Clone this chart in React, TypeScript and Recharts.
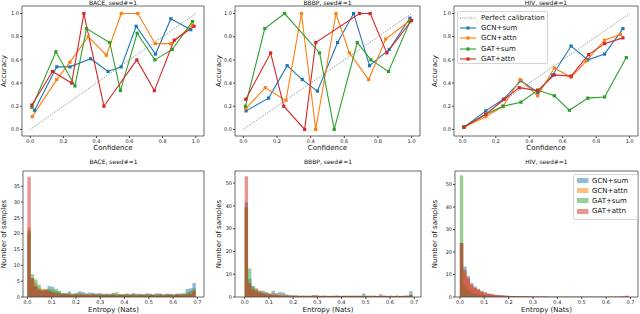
import React from 'react'
import { LineChart, Line, AreaChart, Area, XAxis, YAxis, ReferenceArea } from 'recharts'

const FONT = '"DejaVu Sans", sans-serif'
const seriesNames = ['GCN+sum', 'GCN+attn', 'GAT+sum', 'GAT+attn']
const colors = ['#1f77b4', '#ff7f0e', '#2ca02c', '#d62728']

// reliability diagrams: [confidence, accuracy]
const baceGcnSum = [[0.026, 0.165], [0.16, 0.54], [0.24, 0.54], [0.365, 0.61], [0.47, 0.5], [0.55, 0.54], [0.64, 0.89], [0.757, 0.65], [0.85, 0.955], [0.97, 0.86]]
const baceGcnAttn = [[0.012, 0.11], [0.16, 0.43], [0.24, 0.58], [0.35, 0.8], [0.46, 0.64], [0.55, 1.0], [0.65, 1.0], [0.755, 0.74], [0.85, 0.74], [0.98, 0.9]]
const baceGatSum = [[0.01, 0.19], [0.155, 0.67], [0.27, 0.375], [0.34, 0.87], [0.48, 0.75], [0.545, 0.335], [0.646, 0.83], [0.753, 0.6], [0.858, 0.69], [0.98, 0.93]]
const baceGatAttn = [[0.01, 0.21], [0.134, 0.5], [0.25, 0.4], [0.324, 1.0], [0.445, 0.2], [0.644, 0.6], [0.75, 0.335], [0.87, 0.77], [0.99, 0.89]]

const bbbpGcnSum = [[0.016, 0.16], [0.15, 0.27], [0.26, 0.55], [0.35, 0.43], [0.44, 0.33], [0.56, 0.75], [0.655, 1.0], [0.75, 0.55], [0.867, 0.69], [0.99, 0.96]]
const bbbpGcnAttn = [[0.014, 0.18], [0.13, 0.36], [0.253, 0.25], [0.345, 1.0], [0.43, 0.0], [0.55, 1.0], [0.63, 0.66], [0.745, 0.43], [0.846, 0.78], [0.99, 0.94]]
const bbbpGatSum = [[0.012, 0.2], [0.127, 0.87], [0.245, 1.0], [0.453, 0.66], [0.54, 0.0], [0.677, 0.75], [0.758, 0.6], [0.863, 0.5], [0.99, 0.93]]
const bbbpGatAttn = [[0.014, 0.26], [0.162, 0.66], [0.24, 0.2], [0.364, 0.0], [0.43, 0.75], [0.69, 1.0], [0.754, 1.0], [0.853, 0.66], [1.0, 0.94]]

const hivGcnSum = [[0.01, 0.02], [0.14, 0.16], [0.245, 0.26], [0.35, 0.42], [0.45, 0.32], [0.54, 0.47], [0.65, 0.72], [0.75, 0.6], [0.85, 0.65], [0.96, 0.87]]
const hivGcnAttn = [[0.01, 0.02], [0.14, 0.11], [0.243, 0.2], [0.345, 0.43], [0.45, 0.29], [0.55, 0.53], [0.65, 0.45], [0.74, 0.59], [0.85, 0.77], [0.946, 0.82]]
const hivGatSum = [[0.01, 0.02], [0.14, 0.13], [0.243, 0.2], [0.35, 0.235], [0.45, 0.34], [0.55, 0.29], [0.64, 0.165], [0.75, 0.27], [0.85, 0.28], [0.98, 0.62]]
const hivGatAttn = [[0.01, 0.02], [0.14, 0.13], [0.25, 0.26], [0.34, 0.36], [0.45, 0.335], [0.55, 0.47], [0.65, 0.46], [0.755, 0.645], [0.85, 0.74], [0.96, 0.79]]

const perfectCalibration = [[0, 0], [1, 1]]

// entropy histograms, 50 bins over [0, ln 2]
const baceHistGcnSum = [20, 5, 3, 2.2, 2, 2.5, 3.5, 3.2, 2, 1.6, 1.2, 1.1, 1.7, 1, 1.1, 1.8, 1.6, 1.0, 1.4, 1.3, 1.1, 1.2, 1.0, 1.0, 0.8, 1.0, 0.7, 0.9, 0.7, 1.0, 0.8, 0.9, 0.7, 1.0, 0.8, 1.1, 1.0, 0.9, 1.2, 1.0, 0.8, 1.0, 0.9, 0.8, 1.0, 1.1, 1.2, 2.5, 2.8, 4.4]
const baceHistGcnAttn = [22, 6, 4.5, 3, 2.6, 2.6, 2.2, 1.6, 1.5, 1.3, 1.0, 1.2, 0.9, 1.0, 0.8, 1.2, 0.9, 1.0, 0.7, 1.0, 0.9, 0.8, 0.9, 0.8, 0.7, 0.9, 0.8, 0.7, 0.9, 0.8, 0.7, 0.8, 0.9, 0.7, 0.8, 0.7, 0.9, 0.8, 0.7, 0.9, 0.8, 0.9, 0.7, 0.8, 0.9, 0.8, 0.9, 1.0, 1.6, 2.0]
const baceHistGatSum = [21, 7.2, 5.5, 3.9, 2.4, 2.2, 2.5, 2.3, 2.6, 2.0, 1.2, 1.1, 1.0, 0.9, 1.3, 1.0, 0.9, 1.1, 0.8, 1.0, 0.9, 1.0, 0.8, 0.9, 1.0, 1.3, 1.5, 0.9, 0.8, 1.0, 0.9, 1.3, 1.0, 0.8, 0.9, 1.0, 0.8, 0.7, 0.9, 1.0, 0.8, 0.9, 1.0, 0.8, 1.0, 0.9, 1.0, 1.5, 2.0, 2.8]
const baceHistGatAttn = [38, 6, 3.5, 2.4, 2.0, 2.2, 1.8, 1.4, 1.2, 1.0, 0.9, 1.0, 0.8, 0.7, 0.8, 0.7, 0.8, 0.6, 0.7, 0.8, 0.6, 0.7, 0.6, 0.7, 0.6, 0.7, 0.5, 0.6, 0.7, 0.5, 0.6, 0.7, 0.5, 0.6, 0.6, 0.5, 0.7, 0.6, 0.5, 0.6, 0.5, 0.6, 0.6, 0.5, 0.6, 0.7, 0.6, 0.8, 1.0, 2.0]

const bbbpHistGcnSum = [41.5, 8, 4.7, 3.5, 2.8, 2.7, 2.2, 1.7, 2.7, 1.8, 2.2, 2.0, 1.2, 0.8, 0.7, 0.6, 0.5, 0.6, 0.5, 0.4, 0.5, 0.6, 0.5, 0.4, 0.5, 0.4, 0.5, 0.4, 0.5, 0.4, 0.5, 0.4, 0.5, 0.4, 0.5, 1.5, 0.5, 0.4, 0.5, 0.4, 1.2, 0.5, 0.4, 0.5, 0.4, 0.5, 0.4, 0.5, 0.6, 2.6]
const bbbpHistGcnAttn = [39.3, 6, 4, 4, 2.8, 2.2, 1.8, 1.5, 2.0, 1.3, 1.0, 1.2, 0.8, 0.7, 0.6, 0.7, 0.5, 0.4, 0.6, 0.5, 0.8, 0.7, 0.5, 0.6, 0.5, 0.4, 0.6, 0.5, 0.4, 0.5, 0.6, 0.5, 0.4, 0.5, 0.6, 0.4, 0.5, 0.6, 0.5, 0.4, 0.5, 0.6, 0.5, 0.4, 0.5, 0.6, 0.5, 0.4, 0.5, 1.0]
const bbbpHistGatSum = [39.3, 12.5, 4.7, 3.2, 2.2, 1.8, 1.5, 1.2, 1.0, 1.0, 0.8, 0.8, 0.6, 0.6, 0.5, 0.5, 0.4, 0.5, 0.4, 0.5, 0.4, 0.5, 0.4, 0.5, 0.4, 0.5, 0.4, 0.5, 0.4, 0.5, 0.4, 0.5, 0.4, 0.5, 0.4, 0.5, 0.4, 0.5, 0.4, 0.5, 0.4, 0.5, 0.4, 0.5, 0.4, 0.5, 0.4, 0.5, 0.5, 1.0]
const bbbpHistGatAttn = [53, 6, 3.2, 2.5, 2.0, 1.5, 1.2, 1.0, 0.9, 0.8, 0.7, 0.6, 0.6, 0.5, 0.5, 0.5, 0.4, 0.5, 0.4, 0.4, 0.8, 0.7, 0.4, 0.5, 0.4, 0.4, 0.4, 0.5, 0.4, 0.4, 0.4, 0.4, 0.5, 0.4, 0.4, 0.4, 0.4, 0.4, 0.4, 0.4, 0.4, 0.4, 0.4, 0.4, 0.4, 0.4, 0.4, 0.4, 0.5, 0.8]

const hivHistGcnSum = [24, 13.6, 9.4, 6.2, 4.7, 3.7, 2.8, 2.2, 1.6, 1.3, 1.0, 0.9, 0.8, 0.7, 0.6, 0.5, 0.4, 0.4, 0.3, 0.3, 0.3, 0.2, 0.2, 0.2, 0.2, 0.2, 0.2, 0.1, 0.1, 0.1, 0.1, 0.1, 0.1, 0.1, 0.1, 0.1, 0.1, 0.1, 0.1, 0.1, 0.1, 0.1, 0.1, 0.1, 0.1, 0.1, 0.1, 0.1, 0.1, 0.2]
const hivHistGcnAttn = [24, 11, 8, 5.5, 4.3, 3.4, 2.6, 2, 1.5, 1.2, 1, 0.8, 0.7, 0.6, 0.5, 0.5, 0.4, 0.3, 0.3, 0.3, 0.2, 0.2, 0.2, 0.2, 0.2, 0.1, 0.1, 0.1, 0.1, 0.1, 0.1, 0.1, 0.1, 0.1, 0.1, 0.1, 0.1, 0.1, 0.1, 0.1, 0.1, 0.1, 0.1, 0.1, 0.1, 0.1, 0.2, 0.2, 0.3, 0.6]
const hivHistGatSum = [54, 5, 3, 2, 1.5, 1.2, 1, 0.8, 0.6, 0.5, 0.4, 0.4, 0.3, 0.3, 0.3, 0.2, 0.2, 0.2, 0.2, 0.2, 0.2, 0.1, 0.1, 0.1, 0.1, 0.1, 0.1, 0.1, 0.1, 0.1, 0.1, 0.1, 0.1, 0.1, 0.1, 0.1, 0.1, 0.1, 0.1, 0.1, 0.1, 0.1, 0.1, 0.1, 0.1, 0.1, 0.1, 0.1, 0.1, 0.2]
const hivHistGatAttn = [24, 12.1, 8.4, 5.5, 4, 3.1, 2.2, 1.6, 1.3, 1.1, 0.9, 0.8, 0.7, 0.6, 0.5, 0.4, 0.4, 0.3, 0.3, 0.3, 0.2, 0.2, 0.2, 0.2, 0.2, 0.2, 0.1, 0.1, 0.1, 0.1, 0.1, 0.1, 0.1, 0.1, 0.1, 0.1, 0.1, 0.1, 0.1, 0.1, 0.1, 0.1, 0.1, 0.1, 0.1, 0.1, 0.1, 0.2, 0.2, 0.6]

const confTicks = [0, 0.2, 0.4, 0.6, 0.8, 1.0]
const entropyTicks = [0, 0.1, 0.2, 0.3, 0.4, 0.5, 0.6, 0.7]
const baceCountTicks = [0, 5, 10, 15, 20, 25, 30, 35]
const countTicks = [0, 10, 20, 30, 40, 50]

const ENTROPY_MAX = 0.6931
const CONF_DOMAIN: [number, number] = [-0.05, 1.05]
const ACC_DOMAIN: [number, number] = [-0.057, 1.065]

const toPoints = (pts: number[][]) => pts.map(([x, y]) => ({ x, y }))

// step-area rows: one row per bin edge, last edge repeats the last bin
function histRows(series: number[][]) {
  const n = series[0].length
  const rows: any[] = []
  for (let i = 0; i <= n; i++) {
    const row: any = { x: (i * ENTROPY_MAX) / n }
    series.forEach((s, k) => {
      row['s' + k] = s[Math.min(i, n - 1)]
    })
    rows.push(row)
  }
  return rows
}

const fmt1 = (v: number) => v.toFixed(1)
const tickStyle = { fontSize: 5, fontFamily: FONT, fill: '#222' }

const squareDot = (color: string) => (p: any) => (
  <rect key={`sq-${p.index}`} x={p.cx - 1.6} y={p.cy - 1.6} width={3.2} height={3.2} fill={color} />
)

const yLabel = (text: string, cx: number, fallbackY: number) => (props: any) => {
  const vb = props && props.viewBox
  const cy = vb && typeof vb.y === 'number' ? vb.y + vb.height / 2 : fallbackY
  return (
    <text
      x={cx}
      y={cy}
      transform={`rotate(-90 ${cx} ${cy})`}
      textAnchor="middle"
      dominantBaseline="central"
      fontSize={7}
      fontFamily={FONT}
      fill="#111"
    >
      {text}
    </text>
  )
}

const Title = ({ text, left, width, top }: { text: string; left: number; width: number; top: number }) => (
  <div
    style={{
      position: 'absolute',
      left,
      top,
      width,
      textAlign: 'center',
      fontSize: 6,
      lineHeight: '6px',
      fontFamily: FONT,
      color: '#111',
      whiteSpace: 'nowrap',
    }}
  >
    {text}
  </div>
)

interface CalibProps {
  title: string
  lines: number[][][]
  left: number
  width: number
  yAxisWidth: number
  right: number
  yLabelX: number
}

const CalibrationPanel = ({ title, lines, left, width, yAxisWidth, right, yLabelX }: CalibProps) => (
  <div style={{ position: 'absolute', left, top: 0, width, height: 155 }}>
    <LineChart width={width} height={155} margin={{ top: 6, right, bottom: 0, left: 0 }}>
      <XAxis
        dataKey="x"
        type="number"
        domain={CONF_DOMAIN}
        allowDataOverflow
        ticks={confTicks}
        tickFormatter={fmt1}
        height={19}
        tickSize={2}
        tickMargin={1}
        axisLine={false}
        stroke="#444"
        tick={tickStyle}
        label={{ value: 'Confidence', position: 'insideBottom', offset: 5.5, fontSize: 7, fontFamily: FONT, fill: '#111' }}
      />
      <YAxis
        type="number"
        domain={ACC_DOMAIN}
        allowDataOverflow
        ticks={confTicks}
        tickFormatter={fmt1}
        width={yAxisWidth}
        tickSize={2}
        tickMargin={1}
        axisLine={false}
        stroke="#444"
        tick={tickStyle}
        label={{ content: yLabel('Accuracy', yLabelX, 71) }}
      />
      <ReferenceArea
        x1={CONF_DOMAIN[0]}
        x2={CONF_DOMAIN[1]}
        y1={ACC_DOMAIN[0]}
        y2={ACC_DOMAIN[1]}
        fill="none"
        stroke="#444"
        strokeWidth={0.8}
        ifOverflow="visible"
      />
      <Line
        data={toPoints(perfectCalibration)}
        dataKey="y"
        stroke="#555"
        strokeWidth={0.7}
        strokeDasharray="1 1.2"
        dot={false}
        activeDot={false}
        isAnimationActive={false}
      />
      {lines.map((pts, k) => (
        <Line
          key={seriesNames[k]}
          data={toPoints(pts)}
          dataKey="y"
          name={seriesNames[k]}
          stroke={colors[k]}
          strokeWidth={1.1}
          dot={squareDot(colors[k])}
          activeDot={false}
          isAnimationActive={false}
        />
      ))}
    </LineChart>
    <Title text={title} left={yAxisWidth} width={width - right - yAxisWidth} top={0} />
  </div>
)

interface HistProps {
  title: string
  series: number[][]
  left: number
  width: number
  yAxisWidth: number
  right: number
  xDomain: [number, number]
  yDomain: [number, number]
  yTicks: number[]
  yLabelX: number
}

const HistPanel = ({ title, series, left, width, yAxisWidth, right, xDomain, yDomain, yTicks, yLabelX }: HistProps) => (
  <div style={{ position: 'absolute', left, top: 155, width, height: 159 }}>
    <AreaChart width={width} height={159} data={histRows(series)} margin={{ top: 16, right, bottom: 0, left: 0 }}>
      <XAxis
        dataKey="x"
        type="number"
        domain={xDomain}
        allowDataOverflow
        ticks={entropyTicks}
        tickFormatter={fmt1}
        height={17}
        tickSize={2}
        tickMargin={1}
        axisLine={false}
        stroke="#444"
        tick={tickStyle}
        label={{ value: 'Entropy (Nats)', position: 'insideBottom', offset: 2, fontSize: 7, fontFamily: FONT, fill: '#111' }}
      />
      <YAxis
        type="number"
        domain={yDomain}
        allowDataOverflow
        ticks={yTicks}
        width={yAxisWidth}
        tickSize={2}
        tickMargin={1}
        axisLine={false}
        stroke="#444"
        tick={tickStyle}
        label={{ content: yLabel('Number of samples', yLabelX, 79) }}
      />
      {series.map((_, k) => (
        <Area
          key={seriesNames[k]}
          type="stepAfter"
          dataKey={'s' + k}
          name={seriesNames[k]}
          stroke="none"
          fill={colors[k]}
          fillOpacity={0.5}
          dot={false}
          activeDot={false}
          isAnimationActive={false}
        />
      ))}
      <ReferenceArea
        x1={xDomain[0]}
        x2={xDomain[1]}
        y1={yDomain[0]}
        y2={yDomain[1]}
        fill="none"
        stroke="#444"
        strokeWidth={0.8}
        ifOverflow="visible"
      />
    </AreaChart>
    <Title text={title} left={yAxisWidth} width={width - right - yAxisWidth} top={4} />
  </div>
)

const legendFrame: React.CSSProperties = {
  position: 'absolute',
  boxSizing: 'border-box',
  border: '0.8px solid #d4d4d4',
  borderRadius: 2,
  background: 'rgba(255,255,255,0.85)',
  fontFamily: FONT,
  fontSize: 7,
  color: '#111',
  paddingTop: 0.5,
}

const CalibrationLegend = () => (
  <div style={{ ...legendFrame, left: 457, top: 11, width: 91, height: 53 }}>
    {['Perfect calibration', ...seriesNames].map((name, i) => (
      <div key={name} style={{ display: 'flex', alignItems: 'center', height: 10.4, whiteSpace: 'nowrap' }}>
        <svg width={16} height={6} style={{ marginLeft: 1.5, marginRight: 5.5 }}>
          {i === 0 ? (
            <line x1={0} y1={3} x2={16} y2={3} stroke="#555" strokeWidth={0.7} strokeDasharray="1 1.2" />
          ) : (
            <g>
              <line x1={0} y1={3} x2={16} y2={3} stroke={colors[i - 1]} strokeWidth={1.1} />
              <rect x={6.4} y={1.4} width={3.2} height={3.2} fill={colors[i - 1]} />
            </g>
          )}
        </svg>
        <span>{name}</span>
      </div>
    ))}
  </div>
)

const HistLegend = () => (
  <div style={{ ...legendFrame, left: 573, top: 174, width: 65, height: 46 }}>
    {seriesNames.map((name, i) => (
      <div key={name} style={{ display: 'flex', alignItems: 'center', height: 10.2, whiteSpace: 'nowrap' }}>
        <svg width={11.5} height={5} style={{ marginLeft: 3, marginRight: 3.5 }}>
          <rect x={0} y={0} width={11.5} height={5} fill={colors[i]} fillOpacity={0.5} />
        </svg>
        <span>{name}</span>
      </div>
    ))}
  </div>
)

export default function App() {
  return (
    <div style={{ position: 'absolute', left: 0, top: 0, width: 640, height: 314, background: '#fff', overflow: 'hidden' }}>
      <CalibrationPanel
        title="BACE, seed#=1"
        lines={[baceGcnSum, baceGcnAttn, baceGatSum, baceGatAttn]}
        left={0}
        width={210}
        yAxisWidth={22}
        right={6}
        yLabelX={4}
      />
      <CalibrationPanel
        title="BBBP, seed#=1"
        lines={[bbbpGcnSum, bbbpGcnAttn, bbbpGatSum, bbbpGatAttn]}
        left={210}
        width={215}
        yAxisWidth={25}
        right={5}
        yLabelX={9}
      />
      <CalibrationPanel
        title="HIV, seed#=1"
        lines={[hivGcnSum, hivGcnAttn, hivGatSum, hivGatAttn]}
        left={425}
        width={215}
        yAxisWidth={29}
        right={2}
        yLabelX={10}
      />
      <CalibrationLegend />
      <HistPanel
        title="BACE, seed#=1"
        series={[baceHistGcnSum, baceHistGcnAttn, baceHistGatSum, baceHistGatAttn]}
        left={0}
        width={210}
        yAxisWidth={23}
        right={6}
        xDomain={[-0.018, 0.727]}
        yDomain={[0, 39.8]}
        yTicks={baceCountTicks}
        yLabelX={4}
      />
      <HistPanel
        title="BBBP, seed#=1"
        series={[bbbpHistGcnSum, bbbpHistGcnAttn, bbbpHistGatSum, bbbpHistGatAttn]}
        left={210}
        width={215}
        yAxisWidth={25}
        right={4}
        xDomain={[-0.04, 0.728]}
        yDomain={[0, 55.3]}
        yTicks={countTicks}
        yLabelX={9}
      />
      <HistPanel
        title="HIV, seed#=1"
        series={[hivHistGcnSum, hivHistGcnAttn, hivHistGatSum, hivHistGatAttn]}
        left={425}
        width={215}
        yAxisWidth={30}
        right={2}
        xDomain={[-0.02, 0.731]}
        yDomain={[0, 56]}
        yTicks={countTicks}
        yLabelX={10}
      />
      <HistLegend />
    </div>
  )
}
